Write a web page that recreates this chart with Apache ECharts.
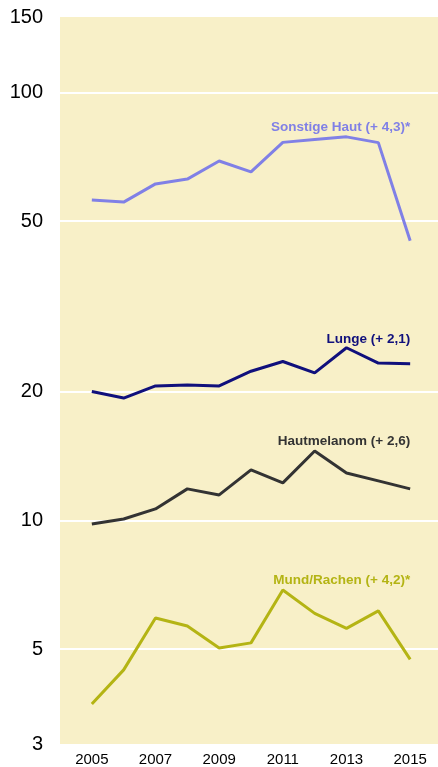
<!DOCTYPE html>
<html>
<head>
<meta charset="utf-8">
<script src="https://cdn.jsdelivr.net/npm/echarts@6/dist/echarts.min.js"></script>
<style>
  html, body { margin: 0; padding: 0; background: #fff; }
  #chart { width: 438px; height: 767px; }
</style>
</head>
<body>
<div id="chart"></div>
<script>
const years = [2005, 2006, 2007, 2008, 2009, 2010, 2011, 2012, 2013, 2014, 2015]
const sonstigeHaut = [56.0, 55.4, 61.1, 62.7, 69.1, 65.2, 76.4, 77.6, 78.7, 76.3, 45.0]
const lunge = [20.0, 19.3, 20.6, 20.7, 20.6, 22.3, 23.5, 22.1, 25.3, 23.3, 23.2]
const hautmelanom = [9.8, 10.07, 10.63, 11.84, 11.46, 13.11, 12.23, 14.52, 12.9, 12.36, 11.84]
const mundRachen = [3.72, 4.47, 5.91, 5.66, 5.03, 5.17, 6.87, 6.06, 5.59, 6.14, 4.73]
const yLabels = [3, 5, 10, 20, 50, 100, 150]
const yGridLines = [5, 10, 20, 50, 100]

const fontFamily = '"Liberation Sans", Arial, Helvetica, sans-serif'

function makeSeries(name, label, values, color, labelValue) {
  return {
    name: name,
    type: 'line',
    data: years.map((y, i) => [y, values[i]]),
    symbol: 'none',
    lineStyle: { color: color, width: 3 },
    itemStyle: { color: color },
    silent: true,
    markPoint: {
      symbol: 'rect',
      symbolSize: 0,
      silent: true,
      data: [{ coord: [2015, labelValue] }],
      label: {
        show: true,
        position: 'left',
        distance: 0,
        formatter: label,
        color: color,
        fontFamily: fontFamily,
        fontWeight: 'bold',
        fontSize: 13.5
      }
    }
  }
}

const chart = echarts.init(document.getElementById('chart'))
chart.setOption({
  animation: false,
  grid: {
    left: 60,
    right: -4,
    top: 17,
    bottom: 23,
    outerBoundsMode: 'none',
    show: true,
    backgroundColor: '#f8f0c8',
    borderWidth: 0
  },
  xAxis: {
    type: 'value',
    min: 2004,
    max: 2016,
    interval: 1,
    axisLine: { show: false },
    axisTick: { show: false },
    splitLine: { show: false },
    axisLabel: {
      margin: 8,
      fontSize: 15,
      fontFamily: fontFamily,
      color: '#000',
      formatter: (v) => (v % 2 === 1 ? String(v) : '')
    }
  },
  yAxis: {
    type: 'log',
    min: 3,
    max: 150,
    axisLine: { show: false },
    axisTick: { show: false, customValues: yGridLines },
    splitLine: { show: true, lineStyle: { color: '#ffffff', width: 2 } },
    axisLabel: {
      customValues: yLabels,
      margin: 17,
      fontSize: 20,
      fontFamily: fontFamily,
      color: '#000'
    }
  },
  series: [
    makeSeries('Sonstige Haut', 'Sonstige Haut (+ 4,3)*', sonstigeHaut, '#8080e6', 82.7),
    makeSeries('Lunge', 'Lunge (+ 2,1)', lunge, '#10107c', 26.5),
    makeSeries('Hautmelanom', 'Hautmelanom (+ 2,6)', hautmelanom, '#333333', 15.27),
    makeSeries('Mund/Rachen', 'Mund/Rachen (+ 4,2)*', mundRachen, '#b4b414', 7.23)
  ]
})
</script>
</body>
</html>
